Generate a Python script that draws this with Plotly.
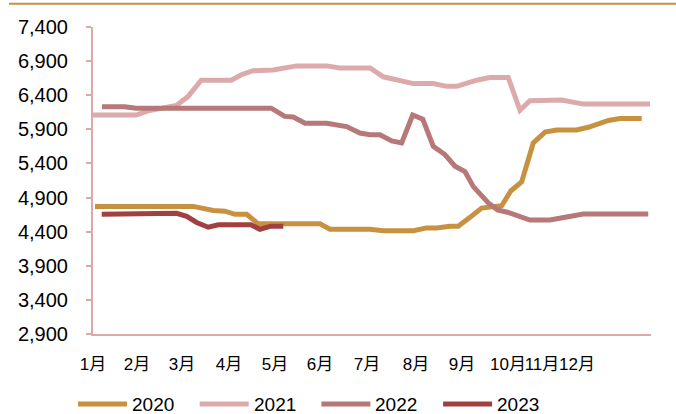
import plotly.graph_objects as go

# Day-of-year positions and prices for each year
days_2020 = [1.3, 65.6, 78.7, 86.3, 92.9, 100.5, 108.1, 148.5, 155, 181.2, 189.9, 209.5,
             218.3, 224.8, 233.5, 238.9, 246.6, 254.2, 267.3, 273.4, 280.4, 288, 295.7,
             303.3, 316.4, 324, 337.1, 344.7, 358.9]
vals_2020 = [4770, 4770, 4710, 4700, 4655, 4655, 4515, 4515, 4435, 4435, 4415, 4415,
             4455, 4455, 4480, 4480, 4610, 4745, 4780, 5000, 5130, 5700, 5860,
             5890, 5890, 5930, 6030, 6060, 6060]

days_2021 = [0, 28.3, 36, 43.6, 54.5, 62.1, 70.8, 90.5, 97, 104.7, 117.7, 133.2, 152.9,
             161.5, 181.2, 189.9, 200.8, 209.5, 222.6, 231.4, 237.9, 251, 259.7, 271.6,
             279.3, 285.8, 306.6, 320.7, 364.3]
vals_2021 = [6110, 6110, 6170, 6200, 6250, 6380, 6620, 6620, 6700, 6760, 6770, 6830, 6830,
             6800, 6800, 6670, 6620, 6570, 6570, 6530, 6530, 6620, 6660, 6660,
             6180, 6320, 6330, 6270, 6270]

days_2022 = [5.9, 20.7, 28.3, 116.6, 125.4, 131, 138.7, 152.9, 165.9, 174.6, 181.2, 187.7,
             195.4, 201.9, 209.1, 215.7, 222.6, 230.2, 236.8, 243.3, 248.8, 253.1, 258.6,
             264.6, 271.1, 285.8, 298.9, 309.8, 320.7, 363.2]
vals_2022 = [6230, 6230, 6210, 6210, 6090, 6080, 5990, 5990, 5940, 5845, 5820, 5820,
             5730, 5700, 6110, 6050, 5650, 5530, 5360, 5280, 5060, 4960, 4820,
             4720, 4685, 4570, 4570, 4615, 4660, 4660]

days_2023 = [5.7, 54.7, 61.3, 67.8, 75.4, 82, 103.3, 109.2, 116.4, 124.5]
vals_2023 = [4655, 4670, 4625, 4535, 4465, 4500, 4500, 4435, 4480, 4480]

series_names = ["2020", "2021", "2022", "2023"]
series_colors = ["#C8913F", "#DCAAAA", "#B67878", "#A04040"]
series_days = [days_2020, days_2021, days_2022, days_2023]
series_vals = [vals_2020, vals_2021, vals_2022, vals_2023]

month_labels = ["1月", "2月", "3月", "4月", "5月", "6月", "7月", "8月", "9月", "10月", "11月", "12月"]
month_pos = [0, 28.8, 58.2, 89, 119, 148.5, 179.2, 211.3, 241.4, 271.5, 293.7, 316.6]

y_ticks = list(range(2900, 7401, 500))

AXIS_COLOR = "#DCA8A8"
FONT = "Liberation Sans, Arial, Noto Sans CJK SC, sans-serif"

fig = go.Figure()
for name, color, xs, ys in zip(series_names, series_colors, series_days, series_vals):
    fig.add_trace(go.Scatter(
        x=xs, y=ys, mode="lines", name=name,
        line=dict(color=color, width=5),
        showlegend=False,
    ))

# Custom legend row beneath the plot
L, T, W, H = 93, 27, 558, 307
def px_x(p):
    return (p - L) / W
def px_y(p):
    return (T + H - p) / H

shapes = []
annotations = []
for i, (name, color) in enumerate(zip(series_names, series_colors)):
    x0 = 78 + i * 121.7
    shapes.append(dict(type="line", xref="paper", yref="paper",
                       x0=px_x(x0), x1=px_x(x0 + 49), y0=px_y(404), y1=px_y(404),
                       line=dict(color=color, width=5)))
    annotations.append(dict(xref="paper", yref="paper", x=px_x(x0 + 52), y=px_y(404),
                            text=name, showarrow=False, xanchor="left", yanchor="middle",
                            font=dict(size=19, color="#000000", family=FONT)))

# Rule along the top edge
shapes.append(dict(type="line", xref="paper", yref="paper",
                   x0=px_x(9), x1=px_x(676), y0=px_y(3.7), y1=px_y(3.7),
                   line=dict(color="#C8913F", width=2)))

fig.update_layout(
    width=676, height=414,
    margin=dict(l=L, r=676 - L - W, t=T, b=414 - T - H),
    paper_bgcolor="white", plot_bgcolor="white",
    shapes=shapes, annotations=annotations,
    font=dict(family=FONT, color="#000000"),
)
fig.update_xaxes(
    range=[0, 365], showgrid=False, zeroline=False,
    showline=True, linecolor=AXIS_COLOR, linewidth=2,
    tickmode="array", tickvals=month_pos, ticktext=month_labels,
    ticks="", ticklabelstandoff=14, tickangle=0,
    tickfont=dict(size=17, family=FONT, color="#000000"),
)
fig.update_yaxes(
    range=[2900, 7400], showgrid=False, zeroline=False,
    showline=True, linecolor=AXIS_COLOR, linewidth=2,
    tickmode="array", tickvals=y_ticks, tickformat=",d",
    ticks="outside", ticklen=5, tickcolor=AXIS_COLOR, tickwidth=2,
    ticklabelstandoff=14,
    tickfont=dict(size=20, family=FONT, color="#000000"),
)

fig.write_html("out.html")
